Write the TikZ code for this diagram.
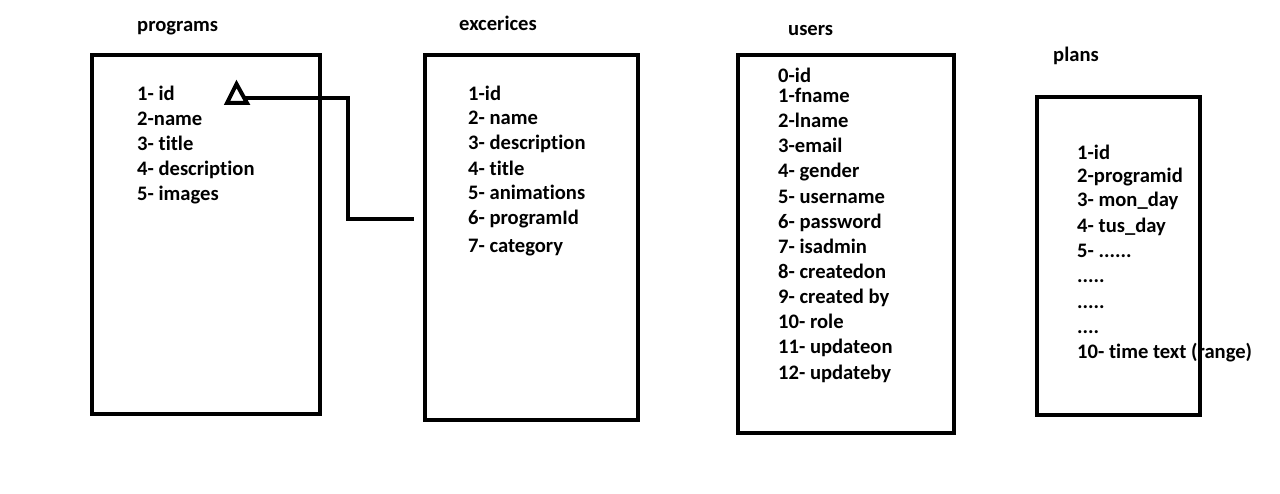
\documentclass[tikz,border=0pt]{standalone}
\usepackage{fontspec}
\setmainfont{Carlito}[Ligatures={NoCommon}]
\begin{document}
\begin{tikzpicture}[x=1pt,y=-1pt,
  tbl/.style={draw, line width=4pt, inner sep=0pt},
  fld/.style={anchor=base west, inner sep=0pt, font=\fontsize{20.6}{24}\selectfont\bfseries},
  link/.style={line width=4pt, line join=miter}]
\useasboundingbox[fill=white] (0,0) rectangle (1280,494);

% titles
\node[fld] (tprog) at (137,32) {programs};
\node[fld] (texc) at (459,31) {excerices};
\node[fld] (tusers) at (788,36) {users};
\node[fld] (tplans) at (1053,62) {plans};

% programs fields
\node[fld] (p1) at (137,101) {1- id};
\node[fld] (p2) at (137,126) {2-name};
\node[fld] (p3) at (137,151) {3- title};
\node[fld] (p4) at (137,176) {4- description};
\node[fld] (p5) at (137,201) {5- images};

% excerices fields
\node[fld] (e1) at (468,101) {1-id};
\node[fld] (e2) at (468,125) {2- name};
\node[fld] (e3) at (468,150) {3- description};
\node[fld] (e4) at (468,176) {4- title};
\node[fld] (e5) at (468,200) {5- animations};
\node[fld] (e6) at (468,225) {6- programId};
\node[fld] (e7) at (468,253) {7- category};

% users fields
\node[fld] (u0) at (778,83) {0-id};
\node[fld] (u1) at (778,103) {1-fname};
\node[fld] (u2) at (778,128) {2-lname};
\node[fld] (u3) at (778,153) {3-email};
\node[fld] (u4) at (778,178) {4- gender};
\node[fld] (u5) at (778,204) {5- username};
\node[fld] (u6) at (778,229) {6- password};
\node[fld] (u7) at (778,254) {7- isadmin};
\node[fld] (u8) at (778,279) {8- createdon};
\node[fld] (u9) at (778,304) {9- created by};
\node[fld] (u10) at (778,329) {10- role};
\node[fld] (u11) at (778,354) {11- updateon};
\node[fld] (u12) at (778,379) {12- updateby};

% plans fields
\node[fld] (l1) at (1077,160) {1-id};
\node[fld] (l2) at (1077,183) {2-programid};
\node[fld] (l3) at (1077,207) {3- mon\_day};
\node[fld] (l4) at (1077,233) {4- tus\_day};
\node[fld] (l5) at (1077,258) {5- ......};
\node[fld] (l6) at (1077,283) {.....};
\node[fld] (l7) at (1077,309) {.....};
\node[fld] (l8) at (1077,334) {....};
\node[fld] (l10) at (1077,359) {10- time text (range)};

% tables (drawn over the texts)
\node[tbl, minimum width=228pt, minimum height=359pt] (programs) at (206,234.5) {};
\node[tbl, minimum width=213pt, minimum height=365pt] (excerices) at (531.5,237.5) {};
\node[tbl, minimum width=216pt, minimum height=378pt] (users) at (846,244) {};
\node[tbl, minimum width=163pt, minimum height=318pt] (plans) at (1118.5,256) {};

% relation: programId -> programs.id
\coordinate (triTop) at (236.5,84);
\coordinate (triR) at (247,103);
\coordinate (triL) at (227,103);
\draw[line width=4pt, line join=miter] (triTop) -- (triR) -- (triL) -- cycle;
\coordinate (fk) at (245,98);
\coordinate (bend) at (348,98);
\coordinate (exend) at (414,219);
\draw[link] (fk) -- (bend) |- (exend);
\end{tikzpicture}
\end{document}
